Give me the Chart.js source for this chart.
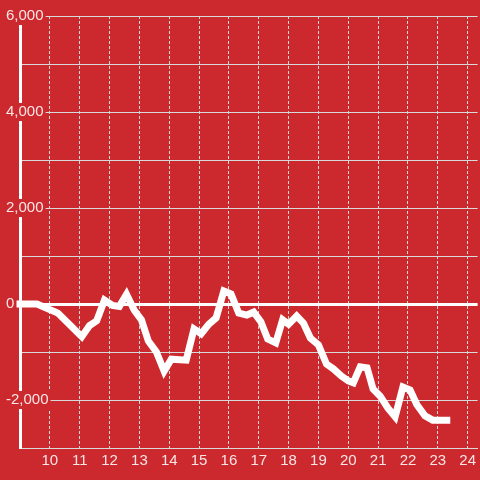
<!DOCTYPE html>
<html>
<head>
<meta charset="utf-8">
<script src="https://cdn.jsdelivr.net/npm/chart.js@4.4.1/dist/chart.umd.min.js"></script>
<style>
  html, body { margin: 0; padding: 0; background: #cc292e; }
  #chart { display: block; }
</style>
</head>
<body>
<canvas id="chart" width="480" height="480"></canvas>
<script>
const xValues = [9.0, 9.57, 10.27, 11.07, 11.33, 11.57, 11.83, 12.1, 12.33, 12.57, 12.83, 13.07, 13.3, 13.57, 13.83, 14.07, 14.57, 14.83, 15.07, 15.33, 15.57, 15.83, 16.07, 16.33, 16.6, 16.83, 17.07, 17.3, 17.57, 17.8, 18.0, 18.27, 18.5, 18.73, 19.0, 19.27, 19.5, 19.77, 20.0, 20.17, 20.4, 20.63, 20.83, 21.07, 21.33, 21.57, 21.83, 22.07, 22.3, 22.57, 22.83, 23.3];
const yValues = [0, 0, -190, -680, -450, -350, 80, -30, -50, 200, -130, -330, -770, -1000, -1400, -1150, -1170, -520, -620, -420, -290, 270, 210, -190, -230, -170, -370, -730, -810, -330, -420, -250, -400, -710, -850, -1250, -1350, -1500, -1600, -1640, -1310, -1330, -1770, -1920, -2170, -2350, -1730, -1790, -2100, -2330, -2420, -2420];

const xMin = 9;
const xMax = 24.333;
const yMin = -3000;
const yMax = 6000;

const red = '#cc292e';
const gridGray = '#d9d9d9';
const labelColor = 'rgba(255,255,255,0.88)';

let points = [];
xValues.forEach((x, i) => {
  points.push({ x: x, y: yValues[i] });
});

const $canvas = document.querySelector("#chart");

new Chart($canvas, {
  type: 'line',
  data: {
    datasets: [{
      data: points,
      borderColor: '#ffffff',
      borderWidth: 7,
      borderCapStyle: 'square',
      pointRadius: 0,
      tension: 0,
      fill: false,
      clip: false
    }]
  },
  options: {
    responsive: false,
    maintainAspectRatio: false,
    devicePixelRatio: 1,
    animation: false,
    layout: { padding: { top: 16, left: 0, right: 0, bottom: 0 } },
    plugins: {
      legend: { display: false },
      tooltip: { enabled: false }
    },
    scales: {
      x: {
        type: 'linear',
        min: xMin,
        max: xMax,
        afterFit: (scale) => { scale.height = 32; },
        grid: {
          color: (ctx) => ctx.tick && ctx.tick.value === 9 ? 'rgba(0,0,0,0)' : gridGray,
          lineWidth: 1,
          drawTicks: false
        },
        border: { color: gridGray, width: 1, dash: [3, 2] },
        ticks: {
          stepSize: 1,
          includeBounds: false,
          autoSkip: false,
          maxRotation: 0,
          padding: 4,
          color: labelColor,
          font: { family: 'Liberation Sans', size: 15 },
          callback: (v) => v === 9 ? '' : String(v)
        }
      },
      y: {
        min: yMin,
        max: yMax,
        afterFit: (scale) => { scale.width = 20; },
        grid: {
          color: (ctx) => ctx.tick && ctx.tick.value === 0 ? '#ffffff' : gridGray,
          lineWidth: (ctx) => ctx.tick && ctx.tick.value === 0 ? 3 : 1,
          drawTicks: false
        },
        border: { color: '#ffffff', width: 3 },
        ticks: {
          stepSize: 1000,
          mirror: true,
          padding: -14,
          color: labelColor,
          font: { family: 'Liberation Sans', size: 15 },
          showLabelBackdrop: (ctx) => {
            let v = ctx.tick ? ctx.tick.value : 1;
            return v % 2000 === 0 && v !== 0 && v > yMin;
          },
          backdropColor: red,
          backdropPadding: { top: 0, bottom: 0, left: 2, right: 2 },
          callback: (v) => {
            if (v === 0) return '0';
            if (v % 2000 === 0 && v > yMin) return v.toLocaleString('en-US');
            return '';
          }
        }
      }
    }
  },
  plugins: [{
    id: 'bg',
    beforeDraw: (chart) => {
      const ctx = chart.ctx;
      ctx.save();
      ctx.fillStyle = red;
      ctx.fillRect(0, 0, chart.width, chart.height);
      ctx.restore();
    }
  }]
});
</script>
</body>
</html>
